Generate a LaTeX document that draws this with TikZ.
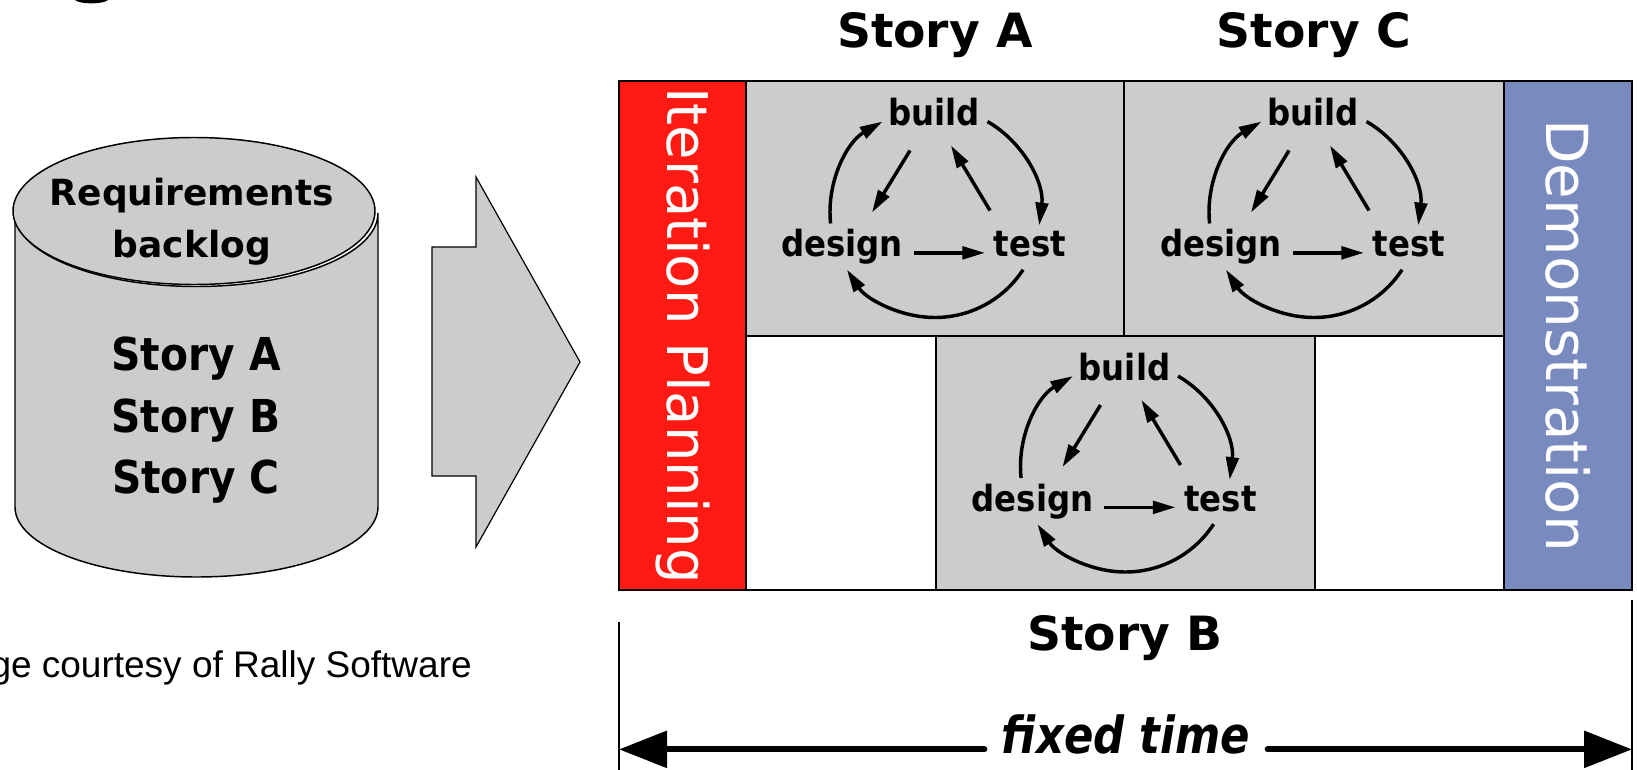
\documentclass[tikz,border=0pt]{standalone}
\usepackage{fontspec}
\usepackage{graphicx}
\setmainfont{DejaVu Sans}
\newfontfamily\capfont{Liberation Sans}
\usetikzlibrary{arrows.meta}

\definecolor{boxgray}{RGB}{204,204,204}
\definecolor{planred}{RGB}{255,27,20}
\definecolor{demoblue}{RGB}{121,138,191}

% horizontal squeeze of a piece of text
\newcommand{\hsqz}[2]{\scalebox{#1}[1]{#2}}

\tikzset{
  cell/.style={fill=boxgray, draw=black, line width=1.1pt},
  solid3d/.style={fill=boxgray, draw=black, line width=1.1pt},
  hdr/.style={font=\fontsize{35.4}{42}\selectfont\bfseries, inner sep=0pt, anchor=base},
  reqtext/.style={font=\fontsize{27}{32}\selectfont\bfseries, inner sep=0pt, anchor=base},
  storytext/.style={font=\fontsize{34}{40}\selectfont\bfseries, inner sep=0pt, anchor=base},
  cyctext/.style={font=\fontsize{27}{32}\selectfont\bfseries, inner sep=0pt, anchor=base},
  vertlabel/.style={text=white, rotate=-90, inner sep=0pt},
  cycarrow/.style={line width=2.6pt, -{Triangle[length=17pt,width=9.5pt]}},
  timeline/.style={line width=4.5pt, line cap=round, -{Triangle[length=36pt,width=27pt]}},
  devcycle/.pic={
    \node[cyctext] (-b) at (-1,-83) {\hsqz{0.9}{build}};
    \node[cyctext] (-d) at (-93,48) {\hsqz{0.9}{design}};
    \node[cyctext] (-t) at (95,48) {\hsqz{0.9}{test}};
    % outer ring: design -> build -> test -> design
    \draw[cycarrow] ([shift={(174:105)}]0,4) arc[start angle=174, end angle=240, radius=105];
    \draw[cycarrow] ([shift={(-60:105)}]0,4) arc[start angle=-60, end angle=7, radius=105];
    \draw[cycarrow] ([shift={(33:105)}]0,4) arc[start angle=33, end angle=147, radius=105];
    % inner triangle
    \coordinate (-bd) at (-25,-58);
    \coordinate (-db) at (-63,4);
    \coordinate (-tb) at (55,2);
    \coordinate (-bt) at (16,-63);
    \draw[cycarrow] (-bd) -- (-db);
    \draw[cycarrow] (-tb) -- (-bt);
    \draw[cycarrow, shorten <=8pt, shorten >=6.5pt] (-d.mid east) -- (-t.mid west);
  }
}

\begin{document}
\begin{tikzpicture}[x=0.75pt, y=-0.75pt]
\useasboundingbox (0,0) rectangle (1637,770);

% descender of a heading above
\fill (75,0) .. controls (80,4.5) and (103,4.5) .. (108,0) -- cycle;

% backlog cylinder
\filldraw[solid3d] (15,213) -- (15,507)
  arc[start angle=180, end angle=0, x radius=181.5, y radius=70]
  -- (378,213)
  arc[start angle=0, end angle=180, x radius=181.5, y radius=73.5] -- cycle;
\filldraw[solid3d] (194,211) ellipse[x radius=181, y radius=73.5];
\node[reqtext] (req1) at (192,205) {Requirements};
\node[reqtext] (req2) at (192,257) {backlog};
\node[storytext] (bA) at (196,370) {\hsqz{0.9}{Story A}};
\node[storytext] (bB) at (196,432) {\hsqz{0.9}{Story B}};
\node[storytext] (bC) at (196,493) {\hsqz{0.9}{Story C}};

% block arrow
\filldraw[fill=boxgray, draw=black, line width=0.9pt, line join=miter]
  (476,177) -- (476,247) -- (432,247) -- (432,476) -- (476,476)
  -- (476,547) -- (580,362) -- cycle;

% iteration board
\draw[cell] (746,81) rectangle (1124,336);
\draw[cell] (1124,81) rectangle (1504,336);
\draw[cell] (936,336) rectangle (1315,590);
\filldraw[fill=planred, draw=black, line width=1.1pt] (619,81) rectangle (746,590);
\filldraw[fill=demoblue, draw=black, line width=1.1pt] (1504,81) rectangle (1632,590);
\draw[line width=1.5pt] (619,81) rectangle (1632,590);

\node[vertlabel, font=\fontsize{42}{50}\selectfont] (plan) at (682.5,335.5) {Iteration Planning};
\node[vertlabel, font=\fontsize{43.5}{50}\selectfont] (demo) at (1568,335.5) {Demonstration};

\pic (cA) at (935,208.5) {devcycle};
\pic (cC) at (1314,208.5) {devcycle};
\pic (cB) at (1125.5,463) {devcycle};

\node[hdr] (hA) at (935,48) {Story A};
\node[hdr] (hC) at (1314,48) {Story C};
\node[hdr] (hB) at (1125,650) {Story B};

% time span
\coordinate (tickL) at (619,622);
\coordinate (tickLb) at (619,770);
\coordinate (tickR) at (1632,600);
\coordinate (tickRb) at (1632,770);
\draw[line width=0.9pt] (tickL) -- (tickLb);
\draw[line width=0.9pt] (tickR) -- (tickRb);
\node[font=\fontsize{38.3}{44}\selectfont\bfseries\itshape, inner ysep=0pt, inner xsep=13pt, anchor=base]
  (ft) at (1126,753) {\hsqz{0.85}{fixed time}};
\draw[timeline] (ft.mid west) -- (ft.mid west -| tickL);
\draw[timeline] (ft.mid east) -- (ft.mid east -| tickR);

\node[font=\capfont\fontsize{27.75}{32}\selectfont, inner sep=0pt, anchor=base east]
  (credit) at (472,677) {ge courtesy of Rally Software};
\end{tikzpicture}
\end{document}
